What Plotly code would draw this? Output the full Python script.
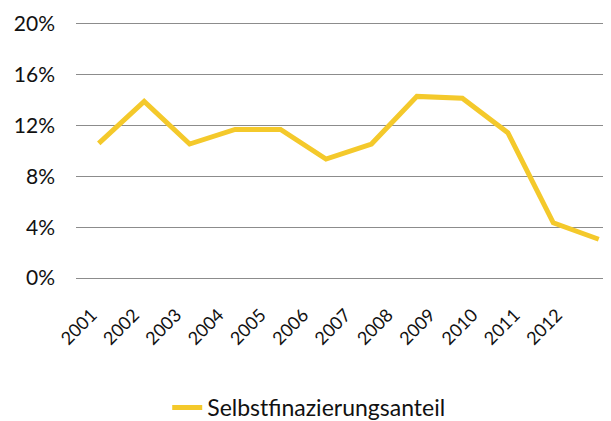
import plotly.graph_objects as go

years = ["2001", "2002", "2003", "2004", "2005", "2006",
         "2007", "2008", "2009", "2010", "2011", "2012"]
anteil = [0.106, 0.139, 0.1055, 0.117, 0.117, 0.0937,
          0.1055, 0.143, 0.1415, 0.1144, 0.0435, 0.0305]
y_ticks = [0, 0.04, 0.08, 0.12, 0.16, 0.20]
y_labels = ["0%", "4%", "8%", "12%", "16%", "20%"]

fig = go.Figure()

fig.add_trace(go.Scatter(x=years, y=anteil,
                         mode='lines',
                         name='Selbstfinazierungsanteil',
                         line=dict(color='#F4C92B', width=5)))

# year labels sit on their own, slightly narrower axis (as in the original)
fig.add_trace(go.Scatter(x=years, y=anteil, xaxis='x2', yaxis='y2',
                         mode='lines', line=dict(width=0), opacity=0,
                         showlegend=False, hoverinfo='skip'))

# page body has an 8px margin, so the figure starts 8px in;
# y range padded by 2px so plotly keeps the 0% and 20% gridlines
fig.update_layout(
    autosize=False,
    width=603,
    height=421,
    margin=dict(l=68, r=0, t=14, b=149),
    paper_bgcolor='white',
    plot_bgcolor='rgba(0,0,0,0)',
    font=dict(family='Lato, "Open Sans", sans-serif', size=21, color='#111111'),
    showlegend=True,
    legend=dict(orientation='h', x=0.435, xanchor='center', y=-0.496, yanchor='middle',
                font=dict(size=23)),
    xaxis=dict(type='category', range=[-0.5, 11.27], domain=[0, 1],
               showticklabels=False,
               showgrid=False, showline=False, ticks='', zeroline=False,
               automargin=False),
    xaxis2=dict(type='category', range=[-0.37, 11.63], domain=[0, 0.949],
                anchor='y2', tickangle=-45, ticklabelstandoff=20,
                tickfont=dict(size=18),
                showgrid=False, showline=False, ticks='', zeroline=False,
                automargin=False),
    yaxis=dict(range=[-0.00157, 0.20157], tickvals=y_ticks, ticktext=y_labels,
               showgrid=True, gridcolor='#8c8c8c', gridwidth=1.2,
               zeroline=False, showline=False, ticks='', ticklabelstandoff=20,
               automargin=False),
    yaxis2=dict(range=[0, 0.20], domain=[0, 1], anchor='x2', visible=False),
)

fig.write_html("out.html")
